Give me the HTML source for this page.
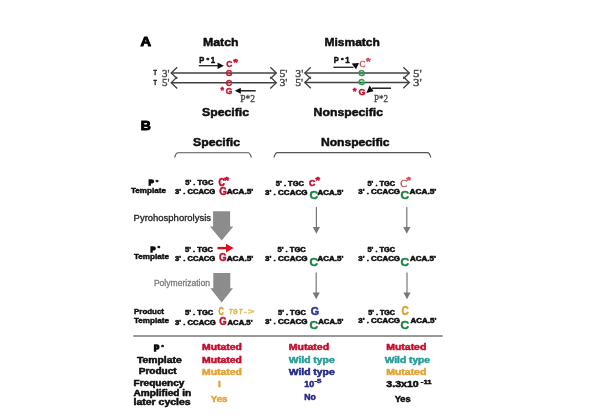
<!DOCTYPE html>
<html><head><meta charset="utf-8"><style>
html,body{margin:0;padding:0;background:#fff;width:600px;height:420px;overflow:hidden}
svg{display:block}
</style></head><body>
<svg width="600" height="420" viewBox="0 0 600 420">
<defs><filter id="b" x="0" y="0" width="600" height="420" filterUnits="userSpaceOnUse"><feGaussianBlur stdDeviation="0.35"/></filter></defs>
<rect width="600" height="420" fill="#fff"/>
<g filter="url(#b)">
<text x="140.4" y="46.0" font-size="13.6" fill="#000" font-weight="bold" font-family="'Liberation Sans', sans-serif" textLength="10.6" lengthAdjust="spacingAndGlyphs" stroke="#000" stroke-width="1.0" stroke-linejoin="round">A</text>
<text x="203" y="46.0" font-size="10.9" fill="#111" font-weight="bold" font-family="'Liberation Sans', sans-serif" textLength="35.6" lengthAdjust="spacingAndGlyphs" stroke="#111" stroke-width="0.49" stroke-linejoin="round">Match</text>
<text x="324.5" y="46.0" font-size="10.9" fill="#111" font-weight="bold" font-family="'Liberation Sans', sans-serif" textLength="55.3" lengthAdjust="spacingAndGlyphs" stroke="#111" stroke-width="0.49" stroke-linejoin="round">Mismatch</text>
<line x1="171.2" y1="73.0" x2="276.3" y2="73.0" stroke="#404040" stroke-width="1.4"/>
<line x1="171.2" y1="82.7" x2="276.3" y2="82.7" stroke="#404040" stroke-width="1.4"/>
<path d="M177.2,67.2 L171.2,73.0 L177.2,78.8" fill="none" stroke="#404040" stroke-width="1.3"/>
<path d="M270.3,67.2 L276.3,73.0 L270.3,78.8" fill="none" stroke="#404040" stroke-width="1.3"/>
<path d="M177.2,76.9 L171.2,82.7 L177.2,88.5" fill="none" stroke="#404040" stroke-width="1.3"/>
<path d="M270.3,76.9 L276.3,82.7 L270.3,88.5" fill="none" stroke="#404040" stroke-width="1.3"/>
<text x="153.5" y="75.2" font-size="7.2" fill="#222" font-weight="bold" font-family="'Liberation Sans', sans-serif" textLength="3.4" lengthAdjust="spacingAndGlyphs" stroke="#222" stroke-width="0.432" stroke-linejoin="round">T</text>
<text x="153.5" y="85.2" font-size="7.2" fill="#222" font-weight="bold" font-family="'Liberation Sans', sans-serif" textLength="3.4" lengthAdjust="spacingAndGlyphs" stroke="#222" stroke-width="0.432" stroke-linejoin="round">T</text>
<text x="162.0" y="76.6" font-size="10" fill="#4a4a4a" font-weight="normal" font-family="'Liberation Serif', serif" textLength="7.5" lengthAdjust="spacingAndGlyphs" stroke="#4a4a4a" stroke-width="0.35">3'</text>
<text x="162.0" y="86.0" font-size="10" fill="#4a4a4a" font-weight="normal" font-family="'Liberation Serif', serif" textLength="7.5" lengthAdjust="spacingAndGlyphs" stroke="#4a4a4a" stroke-width="0.35">5'</text>
<text x="279.4" y="77.0" font-size="10" fill="#4a4a4a" font-weight="normal" font-family="'Liberation Serif', serif" textLength="8" lengthAdjust="spacingAndGlyphs" stroke="#4a4a4a" stroke-width="0.35">5'</text>
<text x="279.4" y="86.3" font-size="10" fill="#4a4a4a" font-weight="normal" font-family="'Liberation Serif', serif" textLength="8" lengthAdjust="spacingAndGlyphs" stroke="#4a4a4a" stroke-width="0.35">3'</text>
<text x="199.3" y="62.8" font-size="8.8" fill="#111" font-weight="bold" font-family="'Liberation Sans', sans-serif" textLength="5.0" lengthAdjust="spacingAndGlyphs" stroke="#111" stroke-width="0.528" stroke-linejoin="round">P</text>
<text x="206.4" y="62.2" font-size="5.5" fill="#111" font-weight="bold" font-family="'Liberation Sans', sans-serif" textLength="2.6" lengthAdjust="spacingAndGlyphs" stroke="#111" stroke-width="0.44" stroke-linejoin="round">*</text>
<text x="210.7" y="62.8" font-size="8.8" fill="#111" font-weight="bold" font-family="'Liberation Sans', sans-serif" textLength="4.4" lengthAdjust="spacingAndGlyphs" stroke="#111" stroke-width="0.528" stroke-linejoin="round">1</text>
<line x1="198.8" y1="65.7" x2="218.5" y2="65.7" stroke="#222" stroke-width="1.3"/>
<path d="M217.6,62.4 L223.9,65.7 L217.6,69 Z" fill="#111" stroke="none" stroke-width="1"/>
<text x="226.2" y="67.4" font-size="8.6" fill="#c4122e" font-weight="bold" font-family="'Liberation Sans', sans-serif" textLength="6.2" lengthAdjust="spacingAndGlyphs" stroke="#c4122e" stroke-width="0.42">C</text>
<text x="233.3" y="65" font-size="9" fill="#c4122e" font-weight="bold" font-family="'Liberation Sans', sans-serif" textLength="4.6" lengthAdjust="spacingAndGlyphs" stroke="#c4122e" stroke-width="0.54" stroke-linejoin="round">*</text>
<text x="225.8" y="75.8" font-size="8.6" fill="#c4122e" font-weight="bold" font-family="'Liberation Sans', sans-serif" textLength="6.6" lengthAdjust="spacingAndGlyphs" stroke="#c4122e" stroke-width="0.42">G</text>
<text x="225.8" y="86" font-size="8.6" fill="#c4122e" font-weight="bold" font-family="'Liberation Sans', sans-serif" textLength="6.4" lengthAdjust="spacingAndGlyphs" stroke="#c4122e" stroke-width="0.42">C</text>
<text x="220.6" y="92.6" font-size="9" fill="#c4122e" font-weight="bold" font-family="'Liberation Sans', sans-serif" textLength="3.6" lengthAdjust="spacingAndGlyphs" stroke="#c4122e" stroke-width="0.42">*</text>
<text x="225.8" y="93.9" font-size="8.6" fill="#c4122e" font-weight="bold" font-family="'Liberation Sans', sans-serif" textLength="6.6" lengthAdjust="spacingAndGlyphs" stroke="#c4122e" stroke-width="0.42">G</text>
<line x1="240" y1="90.8" x2="255.7" y2="90.8" stroke="#111" stroke-width="1.4"/>
<path d="M240.8,87.8 L234.8,90.8 L240.8,93.8 Z" fill="#111" stroke="none" stroke-width="1"/>
<text x="240.2" y="101.5" font-size="9.4" fill="#4a4a4a" font-weight="normal" font-family="'Liberation Serif', serif" textLength="14.7" lengthAdjust="spacingAndGlyphs" stroke="#4a4a4a" stroke-width="0.329">P*2</text>
<line x1="304.8" y1="73.0" x2="409.3" y2="73.0" stroke="#404040" stroke-width="1.4"/>
<line x1="304.8" y1="82.5" x2="409.3" y2="82.5" stroke="#404040" stroke-width="1.4"/>
<path d="M310.8,67.2 L304.8,73.0 L310.8,78.8" fill="none" stroke="#404040" stroke-width="1.3"/>
<path d="M403.3,67.2 L409.3,73.0 L403.3,78.8" fill="none" stroke="#404040" stroke-width="1.3"/>
<path d="M310.8,76.7 L304.8,82.5 L310.8,88.3" fill="none" stroke="#404040" stroke-width="1.3"/>
<path d="M403.3,76.7 L409.3,82.5 L403.3,88.3" fill="none" stroke="#404040" stroke-width="1.3"/>
<text x="295.3" y="76.8" font-size="9.6" fill="#4a4a4a" font-weight="normal" font-family="'Liberation Serif', serif" textLength="8" lengthAdjust="spacingAndGlyphs" stroke="#4a4a4a" stroke-width="0.336">3'</text>
<text x="295.2" y="86.3" font-size="10" fill="#4a4a4a" font-weight="normal" font-family="'Liberation Serif', serif" textLength="8" lengthAdjust="spacingAndGlyphs" stroke="#4a4a4a" stroke-width="0.35">5'</text>
<text x="413" y="77.0" font-size="10.3" fill="#4a4a4a" font-weight="normal" font-family="'Liberation Serif', serif" textLength="8.7" lengthAdjust="spacingAndGlyphs" stroke="#4a4a4a" stroke-width="0.361">5'</text>
<text x="413" y="86.2" font-size="10.3" fill="#4a4a4a" font-weight="normal" font-family="'Liberation Serif', serif" textLength="8.7" lengthAdjust="spacingAndGlyphs" stroke="#4a4a4a" stroke-width="0.361">3'</text>
<text x="333.7" y="62.8" font-size="8.8" fill="#111" font-weight="bold" font-family="'Liberation Sans', sans-serif" textLength="5.0" lengthAdjust="spacingAndGlyphs" stroke="#111" stroke-width="0.528" stroke-linejoin="round">P</text>
<text x="341.1" y="62.4" font-size="5.5" fill="#111" font-weight="bold" font-family="'Liberation Sans', sans-serif" textLength="2.6" lengthAdjust="spacingAndGlyphs" stroke="#111" stroke-width="0.44" stroke-linejoin="round">*</text>
<text x="345.2" y="62.8" font-size="8.8" fill="#111" font-weight="bold" font-family="'Liberation Sans', sans-serif" textLength="4.4" lengthAdjust="spacingAndGlyphs" stroke="#111" stroke-width="0.528" stroke-linejoin="round">1</text>
<line x1="333.4" y1="67.3" x2="353.5" y2="67.3" stroke="#222" stroke-width="1.3"/>
<path d="M351.6,63.6 L359,62.9 L356,69.2 Z" fill="#111" stroke="none" stroke-width="1"/>
<text x="359.6" y="66.6" font-size="9" fill="#c84050" font-weight="normal" font-family="'Liberation Serif', serif" textLength="6" lengthAdjust="spacingAndGlyphs" stroke="#c84050" stroke-width="0.315">C</text>
<text x="366" y="64.3" font-size="9" fill="#d04a60" font-weight="bold" font-family="'Liberation Sans', sans-serif" textLength="4.5" lengthAdjust="spacingAndGlyphs" stroke="#d04a60" stroke-width="0.54" stroke-linejoin="round">*</text>
<text x="358.3" y="76.4" font-size="9.4" fill="#2a9a48" font-weight="bold" font-family="'Liberation Sans', sans-serif" textLength="6.8" lengthAdjust="spacingAndGlyphs" stroke="#2a9a48" stroke-width="0.42">G</text>
<text x="358.3" y="85.4" font-size="9.4" fill="#2a9a48" font-weight="bold" font-family="'Liberation Sans', sans-serif" textLength="6.8" lengthAdjust="spacingAndGlyphs" stroke="#2a9a48" stroke-width="0.42">G</text>
<text x="352.8" y="93.5" font-size="9" fill="#c4122e" font-weight="bold" font-family="'Liberation Sans', sans-serif" textLength="3.8" lengthAdjust="spacingAndGlyphs" stroke="#c4122e" stroke-width="0.42">*</text>
<text x="358.4" y="95" font-size="8.6" fill="#c4122e" font-weight="bold" font-family="'Liberation Sans', sans-serif" textLength="7" lengthAdjust="spacingAndGlyphs" stroke="#c4122e" stroke-width="0.42">G</text>
<line x1="372" y1="88.2" x2="391" y2="88.2" stroke="#111" stroke-width="1.4"/>
<path d="M366.3,93 L369.6,85.6 L373.6,91.3 Z" fill="#111" stroke="none" stroke-width="1"/>
<text x="374" y="101.5" font-size="9.4" fill="#4a4a4a" font-weight="normal" font-family="'Liberation Serif', serif" textLength="14" lengthAdjust="spacingAndGlyphs" stroke="#4a4a4a" stroke-width="0.329">P*2</text>
<text x="202" y="116" font-size="10.9" fill="#111" font-weight="bold" font-family="'Liberation Sans', sans-serif" textLength="47" lengthAdjust="spacingAndGlyphs" stroke="#111" stroke-width="0.49" stroke-linejoin="round">Specific</text>
<text x="313.6" y="116" font-size="10.9" fill="#111" font-weight="bold" font-family="'Liberation Sans', sans-serif" textLength="69.4" lengthAdjust="spacingAndGlyphs" stroke="#111" stroke-width="0.49" stroke-linejoin="round">Nonspecific</text>
<text x="140.8" y="130.4" font-size="13.4" fill="#000" font-weight="bold" font-family="'Liberation Sans', sans-serif" textLength="10.1" lengthAdjust="spacingAndGlyphs" stroke="#000" stroke-width="1.0" stroke-linejoin="round">B</text>
<text x="193" y="146" font-size="10.9" fill="#111" font-weight="bold" font-family="'Liberation Sans', sans-serif" textLength="47" lengthAdjust="spacingAndGlyphs" stroke="#111" stroke-width="0.49" stroke-linejoin="round">Specific</text>
<text x="320.9" y="146" font-size="10.9" fill="#111" font-weight="bold" font-family="'Liberation Sans', sans-serif" textLength="68.7" lengthAdjust="spacingAndGlyphs" stroke="#111" stroke-width="0.49" stroke-linejoin="round">Nonspecific</text>
<path d="M174.6,157.5 Q176,152.8 178,152.8 L248,152.8 Q250,152.8 251.4,157.5" fill="none" stroke="#555" stroke-width="1.1"/>
<path d="M273.9,157.5 Q275.3,152.6 277.3,152.6 L427.5,152.6 Q429.5,152.6 430.9,157.5" fill="none" stroke="#555" stroke-width="1.1"/>
<text x="148.7" y="185.2" font-size="8.0" fill="#111" font-weight="bold" font-family="'Liberation Sans', sans-serif" textLength="5.0" lengthAdjust="spacingAndGlyphs" stroke="#111" stroke-width="1.4">P</text>
<text x="155.8" y="183.6" font-size="6" fill="#111" font-weight="bold" font-family="'Liberation Sans', sans-serif" textLength="2.6" lengthAdjust="spacingAndGlyphs" stroke="#111" stroke-width="0.48" stroke-linejoin="round">*</text>
<text x="131" y="192.5" font-size="7" fill="#111" font-weight="bold" font-family="'Liberation Sans', sans-serif" textLength="35" lengthAdjust="spacingAndGlyphs" stroke="#111" stroke-width="0.42" stroke-linejoin="round">Template</text>
<text x="185.3" y="185.3" font-size="6.3" fill="#111" font-weight="bold" font-family="'Liberation Sans', sans-serif" textLength="28" lengthAdjust="spacingAndGlyphs" stroke="#111" stroke-width="0.504" stroke-linejoin="round">5' . TGC</text>
<text x="218.5" y="186.4" font-size="10" fill="#c4122e" font-weight="bold" font-family="'Liberation Sans', sans-serif" textLength="6.4" lengthAdjust="spacingAndGlyphs" stroke="#c4122e" stroke-width="0.6" stroke-linejoin="round">C</text>
<text x="224.3" y="183.3" font-size="9.5" fill="#c4122e" font-weight="bold" font-family="'Liberation Sans', sans-serif" textLength="4.8" lengthAdjust="spacingAndGlyphs" stroke="#c4122e" stroke-width="0.57" stroke-linejoin="round">*</text>
<text x="175" y="194" font-size="6.3" fill="#111" font-weight="bold" font-family="'Liberation Sans', sans-serif" textLength="40.3" lengthAdjust="spacingAndGlyphs" stroke="#111" stroke-width="0.504" stroke-linejoin="round">3' . CCACG</text>
<text x="219.3" y="194.8" font-size="10.5" fill="#c4122e" font-weight="bold" font-family="'Liberation Sans', sans-serif" textLength="7.6" lengthAdjust="spacingAndGlyphs" stroke="#c4122e" stroke-width="0.472" stroke-linejoin="round">G</text>
<text x="226.7" y="194" font-size="6.3" fill="#111" font-weight="bold" font-family="'Liberation Sans', sans-serif" textLength="26.6" lengthAdjust="spacingAndGlyphs" stroke="#111" stroke-width="0.504" stroke-linejoin="round">ACA.5'</text>
<text x="275.8" y="185.5" font-size="6.3" fill="#111" font-weight="bold" font-family="'Liberation Sans', sans-serif" textLength="28.2" lengthAdjust="spacingAndGlyphs" stroke="#111" stroke-width="0.504" stroke-linejoin="round">5' . TGC</text>
<text x="309" y="186.0" font-size="9.8" fill="#c4122e" font-weight="bold" font-family="'Liberation Sans', sans-serif" textLength="6.3" lengthAdjust="spacingAndGlyphs" stroke="#c4122e" stroke-width="0.588" stroke-linejoin="round">C</text>
<text x="315.5" y="182.6" font-size="9.5" fill="#c4122e" font-weight="bold" font-family="'Liberation Sans', sans-serif" textLength="4.5" lengthAdjust="spacingAndGlyphs" stroke="#c4122e" stroke-width="0.57" stroke-linejoin="round">*</text>
<text x="265" y="194.5" font-size="6.3" fill="#111" font-weight="bold" font-family="'Liberation Sans', sans-serif" textLength="42.5" lengthAdjust="spacingAndGlyphs" stroke="#111" stroke-width="0.504" stroke-linejoin="round">3' . CCACG</text>
<text x="309.4" y="199.3" font-size="10.8" fill="#1a8442" font-weight="bold" font-family="'Liberation Sans', sans-serif" textLength="8.6" lengthAdjust="spacingAndGlyphs" stroke="#1a8442" stroke-width="0.486" stroke-linejoin="round">C</text>
<text x="317.5" y="194.5" font-size="6.3" fill="#111" font-weight="bold" font-family="'Liberation Sans', sans-serif" textLength="25.8" lengthAdjust="spacingAndGlyphs" stroke="#111" stroke-width="0.504" stroke-linejoin="round">ACA.5'</text>
<text x="367.5" y="185.5" font-size="6.3" fill="#111" font-weight="bold" font-family="'Liberation Sans', sans-serif" textLength="27.5" lengthAdjust="spacingAndGlyphs" stroke="#111" stroke-width="0.504" stroke-linejoin="round">5' . TGC</text>
<text x="400.3" y="186.5" font-size="10.2" fill="#c05060" font-weight="normal" font-family="'Liberation Serif', serif" textLength="6.8" lengthAdjust="spacingAndGlyphs" stroke="#c05060" stroke-width="0.357">C</text>
<text x="406.5" y="182.6" font-size="9.5" fill="#d04a58" font-weight="bold" font-family="'Liberation Sans', sans-serif" textLength="4.3" lengthAdjust="spacingAndGlyphs" stroke="#d04a58" stroke-width="0.57" stroke-linejoin="round">*</text>
<text x="358.3" y="194.0" font-size="6.3" fill="#111" font-weight="bold" font-family="'Liberation Sans', sans-serif" textLength="41.7" lengthAdjust="spacingAndGlyphs" stroke="#111" stroke-width="0.504" stroke-linejoin="round">3' . CCACG</text>
<text x="400.4" y="199.3" font-size="10.8" fill="#1a8442" font-weight="bold" font-family="'Liberation Sans', sans-serif" textLength="8.6" lengthAdjust="spacingAndGlyphs" stroke="#1a8442" stroke-width="0.486" stroke-linejoin="round">C</text>
<text x="409.5" y="194.0" font-size="6.3" fill="#111" font-weight="bold" font-family="'Liberation Sans', sans-serif" textLength="26.8" lengthAdjust="spacingAndGlyphs" stroke="#111" stroke-width="0.504" stroke-linejoin="round">ACA.5'</text>
<text x="133.6" y="221.3" font-size="8.9" fill="#1e1e1e" font-weight="normal" font-family="'Liberation Sans', sans-serif" textLength="77.4" lengthAdjust="spacingAndGlyphs" stroke="#1e1e1e" stroke-width="0.3">Pyrohosphorolysis</text>
<path d="M213.1,211.3 L230.1,211.3 L230.1,226.4 L233.3,226.4 L221.7,240.5 L209.9,226.4 L213.1,226.4 Z" fill="#8c8c8c" stroke="none" stroke-width="1"/>
<line x1="316.4" y1="206.9" x2="316.4" y2="228" stroke="#777" stroke-width="1.2"/>
<path d="M312.79999999999995,227 L320.0,227 L316.4,233.7 Z" fill="#777" stroke="none" stroke-width="1"/>
<line x1="406.8" y1="206.9" x2="406.8" y2="228" stroke="#777" stroke-width="1.2"/>
<path d="M403.2,227 L410.40000000000003,227 L406.8,233.7 Z" fill="#777" stroke="none" stroke-width="1"/>
<text x="150.6" y="251.5" font-size="8.0" fill="#111" font-weight="bold" font-family="'Liberation Sans', sans-serif" textLength="5.0" lengthAdjust="spacingAndGlyphs" stroke="#111" stroke-width="1.4">P</text>
<text x="157.5" y="250.0" font-size="6" fill="#111" font-weight="bold" font-family="'Liberation Sans', sans-serif" textLength="2.6" lengthAdjust="spacingAndGlyphs" stroke="#111" stroke-width="0.48" stroke-linejoin="round">*</text>
<text x="134" y="259" font-size="7" fill="#111" font-weight="bold" font-family="'Liberation Sans', sans-serif" textLength="35" lengthAdjust="spacingAndGlyphs" stroke="#111" stroke-width="0.42" stroke-linejoin="round">Template</text>
<text x="185" y="252" font-size="6.3" fill="#111" font-weight="bold" font-family="'Liberation Sans', sans-serif" textLength="28" lengthAdjust="spacingAndGlyphs" stroke="#111" stroke-width="0.504" stroke-linejoin="round">5' . TGC</text>
<line x1="217.4" y1="248.1" x2="227" y2="248.1" stroke="#d40c24" stroke-width="2.4"/>
<path d="M226,243.8 L233.6,248.1 L226,252.4 Z" fill="#e00c1c" stroke="none" stroke-width="1"/>
<text x="175" y="260.5" font-size="6.3" fill="#111" font-weight="bold" font-family="'Liberation Sans', sans-serif" textLength="40.3" lengthAdjust="spacingAndGlyphs" stroke="#111" stroke-width="0.504" stroke-linejoin="round">3' . CCACG</text>
<text x="219" y="261.3" font-size="10.5" fill="#c4122e" font-weight="bold" font-family="'Liberation Sans', sans-serif" textLength="7.6" lengthAdjust="spacingAndGlyphs" stroke="#c4122e" stroke-width="0.472" stroke-linejoin="round">G</text>
<text x="226.7" y="260.5" font-size="6.3" fill="#111" font-weight="bold" font-family="'Liberation Sans', sans-serif" textLength="26.6" lengthAdjust="spacingAndGlyphs" stroke="#111" stroke-width="0.504" stroke-linejoin="round">ACA.5'</text>
<text x="277.5" y="251.7" font-size="6.3" fill="#111" font-weight="bold" font-family="'Liberation Sans', sans-serif" textLength="28.3" lengthAdjust="spacingAndGlyphs" stroke="#111" stroke-width="0.504" stroke-linejoin="round">5' . TGC</text>
<text x="265" y="260.8" font-size="6.3" fill="#111" font-weight="bold" font-family="'Liberation Sans', sans-serif" textLength="42.5" lengthAdjust="spacingAndGlyphs" stroke="#111" stroke-width="0.504" stroke-linejoin="round">3' . CCACG</text>
<text x="309.4" y="265.5" font-size="10.8" fill="#1a8442" font-weight="bold" font-family="'Liberation Sans', sans-serif" textLength="8.6" lengthAdjust="spacingAndGlyphs" stroke="#1a8442" stroke-width="0.486" stroke-linejoin="round">C</text>
<text x="317.5" y="260.8" font-size="6.3" fill="#111" font-weight="bold" font-family="'Liberation Sans', sans-serif" textLength="25.8" lengthAdjust="spacingAndGlyphs" stroke="#111" stroke-width="0.504" stroke-linejoin="round">ACA.5'</text>
<text x="367.5" y="251.7" font-size="6.3" fill="#111" font-weight="bold" font-family="'Liberation Sans', sans-serif" textLength="27.5" lengthAdjust="spacingAndGlyphs" stroke="#111" stroke-width="0.504" stroke-linejoin="round">5' . TGC</text>
<text x="358.3" y="260.5" font-size="6.3" fill="#111" font-weight="bold" font-family="'Liberation Sans', sans-serif" textLength="41.7" lengthAdjust="spacingAndGlyphs" stroke="#111" stroke-width="0.504" stroke-linejoin="round">3' . CCACG</text>
<text x="400.4" y="265.5" font-size="10.8" fill="#1a8442" font-weight="bold" font-family="'Liberation Sans', sans-serif" textLength="8.6" lengthAdjust="spacingAndGlyphs" stroke="#1a8442" stroke-width="0.486" stroke-linejoin="round">C</text>
<text x="410" y="260.5" font-size="6.3" fill="#111" font-weight="bold" font-family="'Liberation Sans', sans-serif" textLength="25.8" lengthAdjust="spacingAndGlyphs" stroke="#111" stroke-width="0.504" stroke-linejoin="round">ACA.5'</text>
<text x="153.9" y="285.8" font-size="8.8" fill="#7a7a7a" font-weight="normal" font-family="'Liberation Sans', sans-serif" textLength="56.1" lengthAdjust="spacingAndGlyphs" stroke="#7a7a7a" stroke-width="0.3">Polymerization</text>
<path d="M213.3,273 L230.3,273 L230.3,288.3 L233,288.3 L221.7,302.5 L210.3,288.3 L213.3,288.3 Z" fill="#8c8c8c" stroke="none" stroke-width="1"/>
<line x1="316.2" y1="272.5" x2="316.2" y2="293.5" stroke="#777" stroke-width="1.2"/>
<path d="M312.59999999999997,292.5 L319.8,292.5 L316.2,299.2 Z" fill="#777" stroke="none" stroke-width="1"/>
<line x1="407" y1="272.5" x2="407" y2="293.5" stroke="#777" stroke-width="1.2"/>
<path d="M403.4,292.5 L410.6,292.5 L407,299.2 Z" fill="#777" stroke="none" stroke-width="1"/>
<text x="134" y="314" font-size="7" fill="#111" font-weight="bold" font-family="'Liberation Sans', sans-serif" textLength="30" lengthAdjust="spacingAndGlyphs" stroke="#111" stroke-width="0.42" stroke-linejoin="round">Product</text>
<text x="134" y="322.5" font-size="7" fill="#111" font-weight="bold" font-family="'Liberation Sans', sans-serif" textLength="35" lengthAdjust="spacingAndGlyphs" stroke="#111" stroke-width="0.42" stroke-linejoin="round">Template</text>
<text x="185" y="314.7" font-size="6.3" fill="#111" font-weight="bold" font-family="'Liberation Sans', sans-serif" textLength="28.3" lengthAdjust="spacingAndGlyphs" stroke="#111" stroke-width="0.504" stroke-linejoin="round">5' . TGC</text>
<text x="218.6" y="314.8" font-size="10.3" fill="#dca032" font-weight="bold" font-family="'Liberation Sans', sans-serif" textLength="5.3" lengthAdjust="spacingAndGlyphs" stroke="#dca032" stroke-width="0.464" stroke-linejoin="round">C</text>
<text x="228.9" y="314.0" font-size="6.4" fill="#dcb848" font-weight="bold" font-family="'Liberation Sans', sans-serif" textLength="3.6" lengthAdjust="spacingAndGlyphs" font-style="italic" stroke="#dcb848" stroke-width="0.512" stroke-linejoin="round">T</text>
<text x="233.3" y="314.0" font-size="6.4" fill="#dcb848" font-weight="bold" font-family="'Liberation Sans', sans-serif" textLength="4.2" lengthAdjust="spacingAndGlyphs" font-style="italic" stroke="#dcb848" stroke-width="0.512" stroke-linejoin="round">G</text>
<text x="239.0" y="314.0" font-size="6.4" fill="#dcb848" font-weight="bold" font-family="'Liberation Sans', sans-serif" textLength="3.4" lengthAdjust="spacingAndGlyphs" font-style="italic" stroke="#dcb848" stroke-width="0.512" stroke-linejoin="round">T</text>
<text x="244.0" y="314.0" font-size="6.4" fill="#e2c470" font-weight="bold" font-family="'Liberation Sans', sans-serif" textLength="2.6" lengthAdjust="spacingAndGlyphs" font-style="italic" stroke="#e2c470" stroke-width="0.512" stroke-linejoin="round">-</text>
<text x="247.9" y="314.0" font-size="6.4" fill="#e2c470" font-weight="bold" font-family="'Liberation Sans', sans-serif" textLength="6.0" lengthAdjust="spacingAndGlyphs" font-style="italic" stroke="#e2c470" stroke-width="0.512" stroke-linejoin="round">&gt;</text>
<text x="175" y="325" font-size="6.3" fill="#111" font-weight="bold" font-family="'Liberation Sans', sans-serif" textLength="40.8" lengthAdjust="spacingAndGlyphs" stroke="#111" stroke-width="0.504" stroke-linejoin="round">3' . CCACG</text>
<text x="219.2" y="324.6" font-size="10.2" fill="#c4122e" font-weight="bold" font-family="'Liberation Sans', sans-serif" textLength="7.4" lengthAdjust="spacingAndGlyphs" stroke="#c4122e" stroke-width="0.459" stroke-linejoin="round">G</text>
<text x="227.5" y="325" font-size="6.3" fill="#111" font-weight="bold" font-family="'Liberation Sans', sans-serif" textLength="25" lengthAdjust="spacingAndGlyphs" stroke="#111" stroke-width="0.504" stroke-linejoin="round">ACA.5'</text>
<text x="278" y="315" font-size="6.3" fill="#111" font-weight="bold" font-family="'Liberation Sans', sans-serif" textLength="27.8" lengthAdjust="spacingAndGlyphs" stroke="#111" stroke-width="0.504" stroke-linejoin="round">5' . TGC</text>
<text x="310.8" y="315" font-size="10.5" fill="#2a3590" font-weight="bold" font-family="'Liberation Sans', sans-serif" textLength="8.4" lengthAdjust="spacingAndGlyphs" stroke="#2a3590" stroke-width="0.472" stroke-linejoin="round">G</text>
<text x="265" y="324.2" font-size="6.3" fill="#111" font-weight="bold" font-family="'Liberation Sans', sans-serif" textLength="42.5" lengthAdjust="spacingAndGlyphs" stroke="#111" stroke-width="0.504" stroke-linejoin="round">3' . CCACG</text>
<text x="309.6" y="328.9" font-size="10.8" fill="#1a8442" font-weight="bold" font-family="'Liberation Sans', sans-serif" textLength="8.6" lengthAdjust="spacingAndGlyphs" stroke="#1a8442" stroke-width="0.486" stroke-linejoin="round">C</text>
<text x="318.3" y="324.2" font-size="6.3" fill="#111" font-weight="bold" font-family="'Liberation Sans', sans-serif" textLength="25" lengthAdjust="spacingAndGlyphs" stroke="#111" stroke-width="0.504" stroke-linejoin="round">ACA.5'</text>
<text x="368.3" y="315" font-size="6.3" fill="#111" font-weight="bold" font-family="'Liberation Sans', sans-serif" textLength="26.7" lengthAdjust="spacingAndGlyphs" stroke="#111" stroke-width="0.504" stroke-linejoin="round">5' . TGC</text>
<text x="401.6" y="315.2" font-size="12.8" fill="#e0a030" font-weight="bold" font-family="'Liberation Sans', sans-serif" textLength="7.2" lengthAdjust="spacingAndGlyphs" stroke="#e0a030" stroke-width="0.576" stroke-linejoin="round">C</text>
<text x="358.3" y="322.9" font-size="6.3" fill="#111" font-weight="bold" font-family="'Liberation Sans', sans-serif" textLength="41.7" lengthAdjust="spacingAndGlyphs" stroke="#111" stroke-width="0.504" stroke-linejoin="round">3' . CCACG</text>
<text x="400.4" y="328.7" font-size="10.8" fill="#1a8442" font-weight="bold" font-family="'Liberation Sans', sans-serif" textLength="8.6" lengthAdjust="spacingAndGlyphs" stroke="#1a8442" stroke-width="0.486" stroke-linejoin="round">C</text>
<text x="410.6" y="322.9" font-size="6.3" fill="#111" font-weight="bold" font-family="'Liberation Sans', sans-serif" textLength="25.8" lengthAdjust="spacingAndGlyphs" stroke="#111" stroke-width="0.504" stroke-linejoin="round">ACA.5'</text>
<line x1="133.3" y1="336.1" x2="442.7" y2="336.1" stroke="#777" stroke-width="1.5"/>
<text x="153.9" y="350.6" font-size="8.3" fill="#111" font-weight="bold" font-family="'Liberation Sans', sans-serif" textLength="5.2" lengthAdjust="spacingAndGlyphs" stroke="#111" stroke-width="1.4">P</text>
<text x="161.2" y="349.2" font-size="6" fill="#111" font-weight="bold" font-family="'Liberation Sans', sans-serif" textLength="2.6" lengthAdjust="spacingAndGlyphs" stroke="#111" stroke-width="0.48" stroke-linejoin="round">*</text>
<text x="137" y="362.5" font-size="8.2" fill="#111" font-weight="bold" font-family="'Liberation Sans', sans-serif" textLength="44.7" lengthAdjust="spacingAndGlyphs" stroke="#111" stroke-width="0.492" stroke-linejoin="round">Template</text>
<text x="138.7" y="374" font-size="8.2" fill="#111" font-weight="bold" font-family="'Liberation Sans', sans-serif" textLength="38" lengthAdjust="spacingAndGlyphs" stroke="#111" stroke-width="0.492" stroke-linejoin="round">Product</text>
<text x="133.5" y="386.1" font-size="8.2" fill="#111" font-weight="bold" font-family="'Liberation Sans', sans-serif" textLength="50.8" lengthAdjust="spacingAndGlyphs" stroke="#111" stroke-width="0.492" stroke-linejoin="round">Frequency</text>
<text x="133.5" y="396.3" font-size="8.2" fill="#111" font-weight="bold" font-family="'Liberation Sans', sans-serif" textLength="57.8" lengthAdjust="spacingAndGlyphs" stroke="#111" stroke-width="0.492" stroke-linejoin="round">Amplified in</text>
<text x="133.5" y="405.2" font-size="8.2" fill="#111" font-weight="bold" font-family="'Liberation Sans', sans-serif" textLength="57.2" lengthAdjust="spacingAndGlyphs" stroke="#111" stroke-width="0.492" stroke-linejoin="round">later cycles</text>
<text x="202" y="350.3" font-size="8.2" fill="#c4122e" font-weight="bold" font-family="'Liberation Sans', sans-serif" textLength="40" lengthAdjust="spacingAndGlyphs" stroke="#c4122e" stroke-width="0.492" stroke-linejoin="round">Mutated</text>
<text x="202" y="363" font-size="8.2" fill="#c4122e" font-weight="bold" font-family="'Liberation Sans', sans-serif" textLength="40" lengthAdjust="spacingAndGlyphs" stroke="#c4122e" stroke-width="0.492" stroke-linejoin="round">Mutated</text>
<text x="202" y="375" font-size="8.2" fill="#e4a23a" font-weight="bold" font-family="'Liberation Sans', sans-serif" textLength="40" lengthAdjust="spacingAndGlyphs" stroke="#e4a23a" stroke-width="0.492" stroke-linejoin="round">Mutated</text>
<text x="218" y="386.7" font-size="8.2" fill="#e4a23a" font-weight="bold" font-family="'Liberation Sans', sans-serif" textLength="2.8" lengthAdjust="spacingAndGlyphs" stroke="#e4a23a" stroke-width="0.492" stroke-linejoin="round">I</text>
<text x="210.8" y="402" font-size="8.2" fill="#e4a23a" font-weight="bold" font-family="'Liberation Sans', sans-serif" textLength="16.7" lengthAdjust="spacingAndGlyphs" stroke="#e4a23a" stroke-width="0.492" stroke-linejoin="round">Yes</text>
<text x="288.7" y="350.4" font-size="8.2" fill="#c4122e" font-weight="bold" font-family="'Liberation Sans', sans-serif" textLength="40.5" lengthAdjust="spacingAndGlyphs" stroke="#c4122e" stroke-width="0.492" stroke-linejoin="round">Mutated</text>
<text x="288.7" y="362.9" font-size="8.2" fill="#2a9e98" font-weight="bold" font-family="'Liberation Sans', sans-serif" textLength="46" lengthAdjust="spacingAndGlyphs" stroke="#2a9e98" stroke-width="0.492" stroke-linejoin="round">Wild type</text>
<text x="288.7" y="375.3" font-size="8.2" fill="#262a84" font-weight="bold" font-family="'Liberation Sans', sans-serif" textLength="46" lengthAdjust="spacingAndGlyphs" stroke="#262a84" stroke-width="0.492" stroke-linejoin="round">Wild type</text>
<text x="304.2" y="386.7" font-size="8.2" fill="#262a84" font-weight="bold" font-family="'Liberation Sans', sans-serif" textLength="10" lengthAdjust="spacingAndGlyphs" stroke="#262a84" stroke-width="0.492" stroke-linejoin="round">10</text>
<text x="314.5" y="383" font-size="6" fill="#262a84" font-weight="bold" font-family="'Liberation Sans', sans-serif" textLength="7" lengthAdjust="spacingAndGlyphs" stroke="#262a84" stroke-width="0.48" stroke-linejoin="round">-5</text>
<text x="304.2" y="400" font-size="8.2" fill="#262a84" font-weight="bold" font-family="'Liberation Sans', sans-serif" textLength="11.6" lengthAdjust="spacingAndGlyphs" stroke="#262a84" stroke-width="0.492" stroke-linejoin="round">No</text>
<text x="386.3" y="350.4" font-size="8.2" fill="#c4122e" font-weight="bold" font-family="'Liberation Sans', sans-serif" textLength="40" lengthAdjust="spacingAndGlyphs" stroke="#c4122e" stroke-width="0.492" stroke-linejoin="round">Mutated</text>
<text x="384.7" y="362.9" font-size="8.2" fill="#2a9e98" font-weight="bold" font-family="'Liberation Sans', sans-serif" textLength="45.3" lengthAdjust="spacingAndGlyphs" stroke="#2a9e98" stroke-width="0.492" stroke-linejoin="round">Wild type</text>
<text x="386.3" y="375" font-size="8.2" fill="#e4a23a" font-weight="bold" font-family="'Liberation Sans', sans-serif" textLength="40" lengthAdjust="spacingAndGlyphs" stroke="#e4a23a" stroke-width="0.492" stroke-linejoin="round">Mutated</text>
<text x="386.3" y="386.7" font-size="8.2" fill="#111" font-weight="bold" font-family="'Liberation Sans', sans-serif" textLength="32.4" lengthAdjust="spacingAndGlyphs" stroke="#111" stroke-width="0.492" stroke-linejoin="round">3.3x10</text>
<text x="420.8" y="383.7" font-size="6" fill="#111" font-weight="bold" font-family="'Liberation Sans', sans-serif" textLength="10.9" lengthAdjust="spacingAndGlyphs" stroke="#111" stroke-width="0.48" stroke-linejoin="round">-11</text>
<text x="394.7" y="402" font-size="8.2" fill="#111" font-weight="bold" font-family="'Liberation Sans', sans-serif" textLength="16" lengthAdjust="spacingAndGlyphs" stroke="#111" stroke-width="0.492" stroke-linejoin="round">Yes</text>
</g>
</svg>
</body></html>
